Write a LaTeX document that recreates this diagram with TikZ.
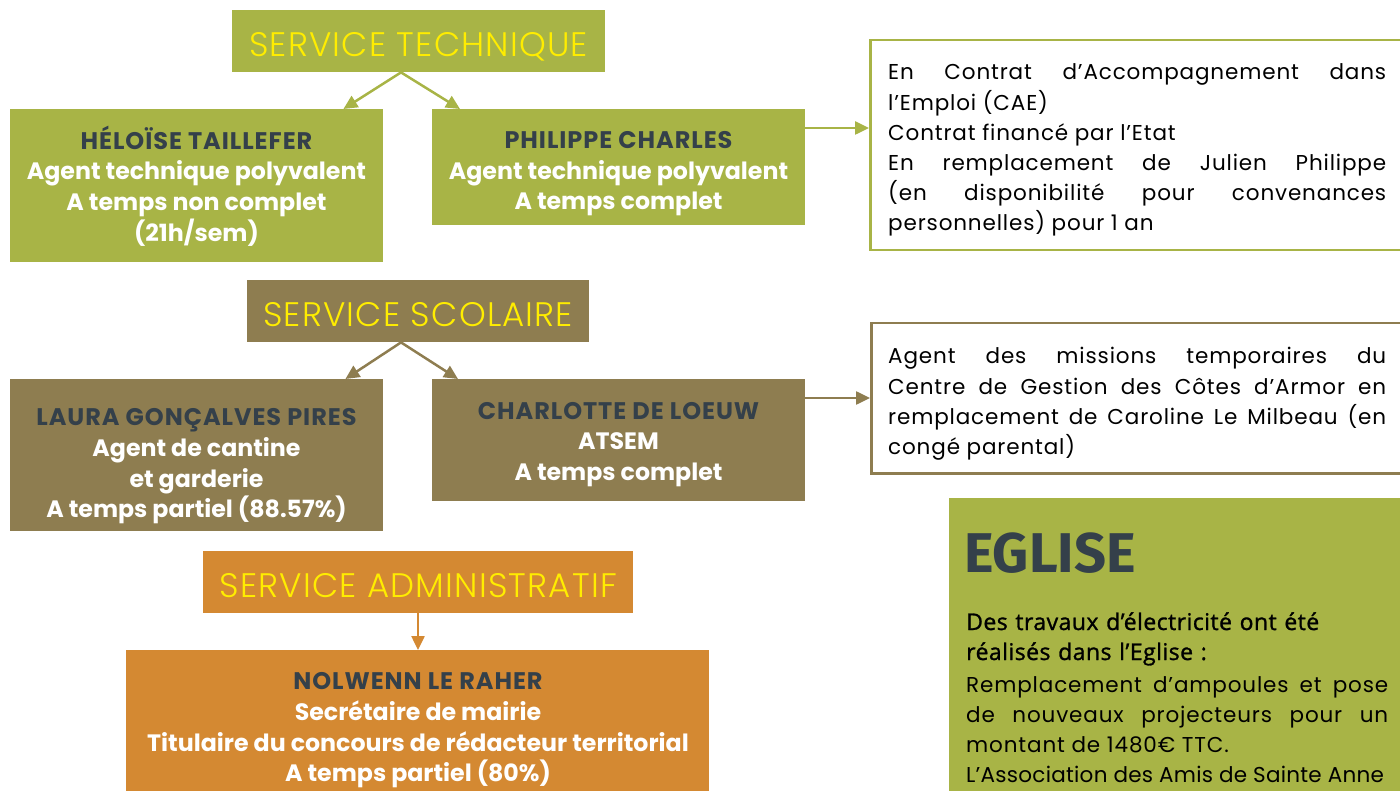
\documentclass[tikz,border=0pt]{standalone}
\usepackage{fontspec}
\setmainfont{Poppins}
\newfontfamily\popt{Poppins Light}[LetterSpace=3.5]
\newfontfamily\popr{Poppins}[LetterSpace=4]
\newfontfamily\poprn{Poppins}[LetterSpace=1.2]
\newfontfamily\popb{Poppins Bold}
\newfontfamily\popbn{Poppins Bold}[LetterSpace=4]
\newfontfamily\osm{Open Sans}[FakeBold=1.2,LetterSpace=2]
\newfontfamily\fira{Fira Sans}
\usetikzlibrary{arrows.meta,calc}
\definecolor{cgreen}{RGB}{168,180,70}
\definecolor{cbrown}{RGB}{142,125,80}
\definecolor{corange}{RGB}{212,137,50}
\definecolor{cdark}{RGB}{52,64,74}
\definecolor{cyellow}{RGB}{255,237,0}
\hyphenpenalty=10000
\exhyphenpenalty=10000
\newcommand\nm[1]{{\color{cdark}\popbn\fontsize{24}{30.6}\selectfont #1}}
\tikzset{
  box/.style={fill=#1, draw=none, inner sep=0pt, anchor=north west},
  title/.style={font=\popt\fontsize{34}{36}\selectfont, text=cyellow, text height=30pt, text depth=0pt},
  ptext/.style={align=center, inner sep=0pt, text=white, font=\popb\fontsize{23.7}{30.6}\selectfont},
  rbox/.style={draw=#1, line width=2.5pt, fill=white, inner sep=0pt, anchor=north west},
  rtext/.style={anchor=base west, inner sep=0pt, text width=498pt, align=justify, font=\popr\fontsize{21.5}{30.2}\selectfont},
  conn/.style={draw=#1, line width=2.5pt, -{Triangle[length=14pt,width=13pt]}},
}
\begin{document}
\begin{tikzpicture}[x=1pt,y=-1pt]
\useasboundingbox (0,0) rectangle (1400,791);
\clip (0,0) rectangle (1400,791);

% ---------- Service technique ----------
\node[box=cgreen, minimum width=373pt, minimum height=62pt, title] (st) at (232,10) {SERVICE TECHNIQUE};
\node[box=cgreen, minimum width=373pt, minimum height=153pt] (h1) at (10,109) {};
\node[box=cgreen, minimum width=373pt, minimum height=116pt] (h2) at (432,109) {};
\node[ptext] (h1t) at (196.5,186) {\nm{HÉLOÏSE TAILLEFER}\\Agent technique polyvalent\\A temps non complet\\(21h/sem)};
\node[ptext] (h2t) at (618.5,174) {\nm{PHILIPPE CHARLES}\\Agent technique polyvalent\\A temps complet};
\coordinate (stj) at ($(st.south west)+(169,0)$);
\draw[conn=cgreen] (stj) -- ($(h1.north east)+(-40,0)$);
\draw[conn=cgreen] (stj) -- ($(h2.north west)+(28,0)$);

\node[rbox=cgreen, minimum width=540pt, minimum height=210pt] (n1) at (869,39) {};
\node[rtext] (n1t) at (888,80) {En Contrat d’Accompagnement dans\linebreak l’Emploi (CAE)\par Contrat financé par l’Etat\par En remplacement de Julien Philippe\linebreak (en disponibilité pour convenances\linebreak personnelles) pour 1 an};
\coordinate (a1) at ($(h2.north east)+(0,19)$);
\draw[conn=cgreen] (a1) -- (a1 -| n1.west);

% ---------- Service scolaire ----------
\node[box=cbrown, minimum width=342pt, minimum height=62pt, title] (ss) at (247,280) {SERVICE SCOLAIRE};
\node[box=cbrown, minimum width=373pt, minimum height=152pt] (l1) at (10,379) {};
\node[box=cbrown, minimum width=373pt, minimum height=122pt] (c1) at (432,379) {};
\node[ptext] (l1t) at (196.5,466.5) {\nm{LAURA GONÇALVES PIRES}\\Agent de cantine\\et garderie\\A temps partiel (88.57\%)};
\node[ptext] (c1t) at (618.5,444.5) {\nm{CHARLOTTE DE LOEUW}\\ATSEM\\A temps complet};
\coordinate (ssj) at ($(ss.south west)+(154,0)$);
\draw[conn=cbrown] (ssj) -- ($(l1.north east)+(-38,0)$);
\draw[conn=cbrown] (ssj) -- ($(c1.north west)+(26,0)$);

\node[rbox=cbrown, minimum width=540pt, minimum height=150pt] (n2) at (870,322) {};
\node[rtext] (n2t) at (888,364) {Agent des missions temporaires du\linebreak Centre de Gestion des Côtes d’Armor en\linebreak remplacement de Caroline Le Milbeau (en\linebreak congé parental)};
\coordinate (a2) at ($(c1.north east)+(0,19)$);
\draw[conn=cbrown] (a2) -- (a2 -| n2.west);

% ---------- Service administratif ----------
\node[box=corange, minimum width=430pt, minimum height=62pt, title] (sa) at (203,551) {SERVICE ADMINISTRATIF};
\node[box=corange, minimum width=583pt, minimum height=160pt] (nl) at (126,650) {};
\node[ptext] (nlt) at (418,730.5) {\nm{NOLWENN LE RAHER}\\Secrétaire de mairie\\Titulaire du concours de rédacteur territorial\\A temps partiel (80\%)};
\coordinate (saj) at ($(sa.south west)+(215,0)$);
\draw[conn=corange] (saj) -- (saj |- nl.north);

% ---------- Eglise ----------
\node[box=cgreen, minimum width=470pt, minimum height=310pt] (eg) at (949,498) {};
\node[anchor=base west, inner sep=0pt, text=cdark, font=\fira\bfseries\fontsize{56}{60}\selectfont] (egt) at (964,572) {EGLISE};
\node[anchor=base west, inner sep=0pt, text width=430pt, align=left, font=\osm\fontsize{23}{30}\selectfont] (eg1) at (966,630) {Des travaux d’électricité ont été\\réalisés dans l’Eglise :};
\node[anchor=base west, inner sep=0pt, text width=422pt, align=justify, font=\popr\fontsize{21.5}{30.3}\selectfont] (eg2) at (966,692) {Remplacement d’ampoules et pose\linebreak de nouveaux projecteurs pour un\linebreak montant de 1480€ TTC.\par {\poprn L’Association des Amis de Sainte Anne}};
\end{tikzpicture}
\end{document}
